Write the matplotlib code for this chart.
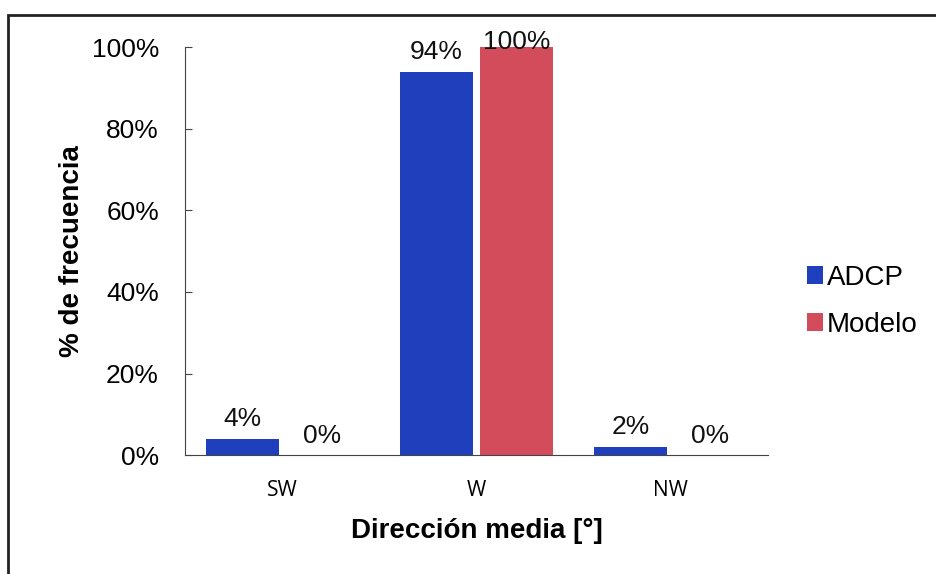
import matplotlib.pyplot as plt
import numpy as np
from matplotlib.patches import Rectangle

categories = ["SW", "W", "NW"]
adcp = [4, 94, 2]
modelo = [0, 100, 0]
series_names = ["ADCP", "Modelo"]
yticks = [0, 20, 40, 60, 80, 100]

blue = "#1f3fbd"
red = "#d24c5c"

plt.rcParams["font.family"] = ["Liberation Sans", "DejaVu Sans"]

fig = plt.figure(figsize=(9.36, 5.74), dpi=100)
ax = fig.add_axes([0.198, 0.207, 0.622, 0.711])

# outer border of the chart area
fig.patches.append(Rectangle((8 / 936, -0.05), 1.1, 1.05 - 15 / 574,
                             transform=fig.transFigure, fill=False,
                             edgecolor="#222222", linewidth=2.0))

x = np.arange(len(categories))
w = 0.375
off = 0.205
b1 = ax.bar(x - off, adcp, width=w, color=blue, label=series_names[0])
b2 = ax.bar(x + off, modelo, width=w, color=red, label=series_names[1])

for bars, vals in ((b1, adcp), (b2, modelo)):
    for bar, v in zip(bars, vals):
        # keep the top label inside the border
        ax.annotate(f"{v}%", (bar.get_x() + bar.get_width() / 2, min(v, 96.4)),
                    xytext=(0, 5.5), textcoords="offset points",
                    ha="center", va="bottom", fontsize=19, color="#111111",
                    annotation_clip=False)

ax.set_xlim(-0.5, 2.5)
ax.set_ylim(0, 100)
ax.set_yticks(yticks)
ax.set_yticklabels([f"{t}%" for t in yticks], fontsize=19)
ax.set_xticks(x)
ax.set_xticklabels(categories, fontsize=15, family="Open Sans")
ax.tick_params(axis="x", length=0, pad=18)
ax.tick_params(axis="y", length=5, direction="in", pad=19, color="#444444")

ax.spines["top"].set_visible(False)
ax.spines["right"].set_visible(False)
ax.spines["left"].set_color("#444444")
ax.spines["bottom"].set_color("#444444")

ax.set_ylabel("% de frecuencia", fontsize=20, fontweight="bold", labelpad=5)
ax.set_xlabel("Dirección media [°]", fontsize=20, fontweight="bold", labelpad=12)

fig.legend(handles=[b1, b2], labels=series_names, loc="center left",
           bbox_to_anchor=(0.862, 0.475), frameon=False, fontsize=20,
           borderpad=0, borderaxespad=0, handlelength=0.58, handleheight=0.58,
           handletextpad=0.15, labelspacing=0.75)

fig.savefig("out.png", dpi=100)
